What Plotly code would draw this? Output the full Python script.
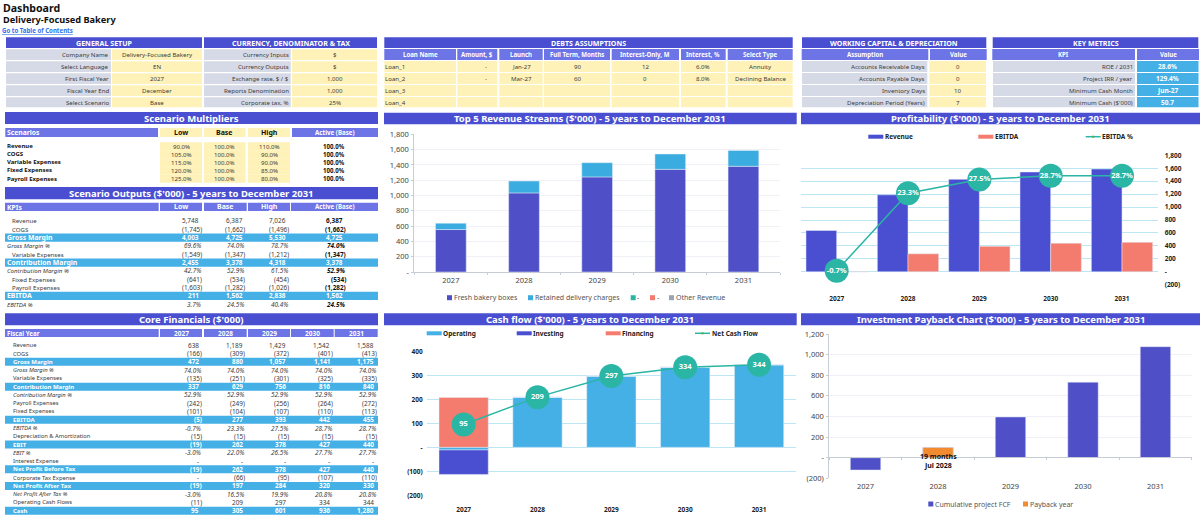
import plotly.graph_objects as go

W = 1200
H = 518

INDIGO = "#4A4FD1"
PERIWINKLE = "#6C74E6"
YELLOW = "#FFF2B8"
GREY = "#D6D9E6"
SKY = "#45B0E6"
SALMON = "#F47C6E"
TEAL = "#2BB5A5"
ORANGE = "#F28A30"
BAR_INDIGO = "#4F50C8"
BAR_SKY = "#3BACDF"
GRID = "#BDE6F5"
SOFT = "#EFF1F6"
INK = "#3A3A3A"
FONT = "Noto Sans"

YEARS = ["2027", "2028", "2029", "2030", "2031"]

# setup blocks
GENERAL_LABELS = ["Company Name", "Select Language", "First Fiscal Year", "Fiscal Year End", "Select Scenario"]
GENERAL_VALUES = ["Delivery-Focused Bakery", "EN", "2027", "December", "Base"]
CURRENCY_LABELS = ["Currency Inputs", "Currency Outputs", "Exchange rate, $ / $", "Reports Denomination", "Corporate tax, %"]
CURRENCY_VALUES = ["$", "$", "1.000", "1,000", "25%"]
LOAN_HEADERS = ["Loan Name", "Amount, $", "Launch", "Full Term, Months", "Interest-Only, M", "Interest, %", "Select Type"]
LOAN_ROWS = [
    ["Loan_1", "-", "Jan-27", "90", "12", "6.0%", "Annuity"],
    ["Loan_2", "-", "Mar-27", "60", "0", "8.0%", "Declining Balance"],
    ["Loan_3", "", "", "", "", "", ""],
    ["Loan_4", "", "", "", "", "", ""],
]
WC_LABELS = ["Accounts Receivable Days", "Accounts Payable Days", "Inventory Days", "Depreciation Period (Years)"]
WC_VALUES = ["0", "0", "10", "7"]
KPI_LABELS = ["ROE / 2031", "Project IRR / year", "Minimum Cash Month", "Minimum Cash ($'000)"]
KPI_VALUES = ["28.6%", "129.4%", "Jun-27", "50.7"]

# scenario blocks
SCENARIO_COLS = ["Low", "Base", "High", "Active (Base)"]
MULT_LABELS = ["Revenue", "COGS", "Variable Expenses", "Fixed Expenses", "Payroll Expenses"]
MULT_ROWS = [
    ["90.0%", "100.0%", "110.0%", "100.0%"],
    ["105.0%", "100.0%", "90.0%", "100.0%"],
    ["115.0%", "100.0%", "90.0%", "100.0%"],
    ["120.0%", "100.0%", "85.0%", "100.0%"],
    ["125.0%", "100.0%", "80.0%", "100.0%"],
]
OUT_LABELS = ["Revenue", "COGS", "Gross Margin", "Gross Margin %", "Variable Expenses", "Contribution Margin",
              "Contribution Margin %", "Fixed Expenses", "Payroll Expenses", "EBITDA", "EBITDA %"]
OUT_ROWS = [
    ["5,748", "6,387", "7,026", "6,387"],
    ["(1,745)", "(1,662)", "(1,496)", "(1,662)"],
    ["4,003", "4,725", "5,530", "4,725"],
    ["69.6%", "74.0%", "78.7%", "74.0%"],
    ["(1,549)", "(1,347)", "(1,212)", "(1,347)"],
    ["2,455", "3,378", "4,318", "3,378"],
    ["42.7%", "52.9%", "61.5%", "52.9%"],
    ["(641)", "(534)", "(454)", "(534)"],
    ["(1,603)", "(1,282)", "(1,026)", "(1,282)"],
    ["211", "1,562", "2,838", "1,562"],
    ["3.7%", "24.5%", "40.4%", "24.5%"],
]

# core financials
CORE_LABELS = ["Revenue", "COGS", "Gross Margin", "Gross Margin %", "Variable Expenses", "Contribution Margin",
               "Contribution Margin %", "Payroll Expenses", "Fixed Expenses", "EBITDA", "EBITDA %",
               "Depreciation & Amortization", "EBIT", "EBIT %", "Interest Expense", "Net Profit Before Tax",
               "Corporate Tax Expense", "Net Profit After Tax", "Net Profit After Tax %", "Operating Cash Flows", "Cash"]
CORE_ROWS = [
    ["638", "1,189", "1,429", "1,542", "1,588"],
    ["(166)", "(309)", "(372)", "(401)", "(413)"],
    ["472", "880", "1,057", "1,141", "1,175"],
    ["74.0%", "74.0%", "74.0%", "74.0%", "74.0%"],
    ["(135)", "(251)", "(301)", "(325)", "(335)"],
    ["337", "629", "756", "816", "840"],
    ["52.9%", "52.9%", "52.9%", "52.9%", "52.9%"],
    ["(242)", "(249)", "(256)", "(264)", "(272)"],
    ["(101)", "(104)", "(107)", "(110)", "(113)"],
    ["(5)", "277", "393", "442", "455"],
    ["-0.7%", "23.3%", "27.5%", "28.7%", "28.7%"],
    ["(15)", "(15)", "(15)", "(15)", "(15)"],
    ["(19)", "262", "378", "427", "440"],
    ["-3.0%", "22.0%", "26.5%", "27.7%", "27.7%"],
    ["-", "-", "-", "-", "-"],
    ["(19)", "262", "378", "427", "440"],
    ["-", "(66)", "(95)", "(107)", "(110)"],
    ["(19)", "197", "284", "320", "330"],
    ["-3.0%", "16.5%", "19.9%", "20.8%", "20.8%"],
    ["(11)", "209", "297", "334", "344"],
    ["95", "305", "601", "936", "1,280"],
]
BLUE_ROWS = {"Gross Margin", "Contribution Margin", "EBITDA", "EBIT", "Net Profit Before Tax", "Net Profit After Tax", "Cash"}

# chart series
FRESH_BOXES = [555, 1034, 1243, 1342, 1382]
DELIVERY_CHARGES = [83, 155, 186, 200, 206]
REVENUE = [638, 1189, 1429, 1542, 1588]
EBITDA = [-5, 277, 393, 442, 455]
EBITDA_PCT = [-0.7, 23.3, 27.5, 28.7, 28.7]
OPERATING = [-11, 209, 297, 334, 344]
INVESTING = [-102, 0, 0, 0, 0]
FINANCING = [208, 0, 0, 0, 0]
NET_CASH = [95, 209, 297, 334, 344]
CUM_FCF = [-120, 98, 395, 733, 1077]
PAYBACK = [None, 100, None, None, None]
PAYBACK_NOTE = "<b>19 months<br>Jul 2028</b>"

REV_TICKS = [0, 200, 400, 600, 800, 1000, 1200, 1400, 1600, 1800]
REV_TICKTEXT = ["-", "200", "400", "600", "800", "1,000", "1,200", "1,400", "1,600", "1,800"]
PROFIT_TICKS = [-200] + REV_TICKS
PROFIT_TICKTEXT = ["(200)"] + REV_TICKTEXT
CASH_TICKS = [-200, -100, 0, 100, 200, 300, 400]
CASH_TICKTEXT = ["(200)", "(100)", "-", "100", "200", "300", "400"]
PAY_TICKS = [-200, 0, 200, 400, 600, 800, 1000, 1200]
PAY_TICKTEXT = ["(200)", "-", "200", "400", "600", "800", "1,000", "1,200"]


fig = go.Figure()
shapes = []
notes = []


def px_x(x):
    return x / W


def px_y(y):
    return 1 - y / H


def rect(x0, y0, x1, y1, color):
    shapes.append(dict(type="rect", xref="paper", yref="paper", x0=px_x(x0), x1=px_x(x1),
                       y0=px_y(y0), y1=px_y(y1), fillcolor=color, line_width=0, layer="below"))


def text(x, y, s, size=6.1, color=INK, anchor="center", bold=False, italic=False):
    if s == "":
        return
    if bold:
        s = "<b>" + s + "</b>"
    if italic:
        s = "<i>" + s + "</i>"
    notes.append(dict(xref="paper", yref="paper", x=px_x(x), y=px_y(y), text=s, showarrow=False,
                      xanchor=anchor, yanchor="middle", borderpad=0, borderwidth=0,
                      font=dict(family=FONT, size=size, color=color)))


def band(x0, y0, x1, y1, s, color=INDIGO, size=7.1):
    rect(x0, y0, x1, y1, color)
    text((x0 + x1) / 2, (y0 + y1) / 2, s, size=size, color="white", bold=True)


def title_band(x0, y0, x1, y1, s):
    band(x0, y0, x1, y1, s, size=9.5)


def sub_band(x0, y0, x1, y1, s):
    band(x0, y0, x1, y1, s, color=PERIWINKLE, size=6.1)


def side_block(rows, x0, xm, xv, x1, labels, values, fill=YELLOW, value_color=INK, value_bold=False):
    for (y0, y1), lab, val in zip(rows, labels, values):
        rect(x0, y0, xm, y1, GREY)
        rect(xv, y0, x1, y1, fill)
        text(xm - 2, (y0 + y1) / 2, lab, anchor="right")
        text((xv + x1) / 2, (y0 + y1) / 2, val, size=6.5 if value_bold else 6.1, color=value_color, bold=value_bold)


def money_right(edge, s):
    # accounting format: positives leave room for the closing bracket
    if s.endswith(")"):
        return edge
    if s.endswith("%"):
        return edge - 1
    return edge - 2.7


# page heading
text(3, 7.5, "Dashboard", size=10.6, color="#111111", anchor="left", bold=True)
text(3, 19.5, "Delivery-Focused Bakery", size=9.2, color="#111111", anchor="left", bold=True)
text(2, 30.5, "<u>Go to Table of Contents</u>", size=6.1, color="#2F6FE8", anchor="left", bold=True)

# top forms
FORM5 = [(49.3, 60), (61.3, 72), (73.3, 84), (85.3, 96), (97.3, 107.3)]
FORM4 = [(61, 72), (73, 84), (85, 96), (97, 107.3)]
band(6, 37.3, 202, 48, "GENERAL SETUP")
side_block(FORM5, 6, 111, 112, 202, GENERAL_LABELS, GENERAL_VALUES)
band(204, 37.3, 377, 48, "CURRENCY, DENOMINATOR & TAX")
side_block(FORM5, 204, 290.7, 292, 377, CURRENCY_LABELS, CURRENCY_VALUES)

band(384.3, 37.3, 792.7, 48, "DEBTS ASSUMPTIONS")
LOAN_X = [(384.3, 456), (457.3, 497.3), (499.3, 542.7), (544, 610), (611.7, 679), (681, 725.7), (727.7, 792.7)]
for (x0, x1), head in zip(LOAN_X, LOAN_HEADERS):
    sub_band(x0, 49, x1, 60, head)
for (y0, y1), row in zip(FORM4, LOAN_ROWS):
    for i, ((x0, x1), cell) in enumerate(zip(LOAN_X, row)):
        rect(x0, y0, x1, y1, YELLOW)
        if i == 0:
            text(x0 + 1, (y0 + y1) / 2, cell, anchor="left")
        elif i == 1:
            text(x1 - 10, (y0 + y1) / 2, cell, anchor="right")
        else:
            text((x0 + x1) / 2, (y0 + y1) / 2, cell)

band(802, 37.3, 986.3, 48, "WORKING CAPITAL & DEPRECIATION")
sub_band(801.7, 49, 928.3, 60, "Assumption")
sub_band(930, 49, 986.7, 60, "Value")
band(992.7, 37.3, 1198.3, 48, "KEY METRICS")
sub_band(992.3, 49, 1135, 60, "KPI")
sub_band(1137, 49, 1199, 60, "Value")
side_block(FORM4, 802, 927.3, 929.3, 986, WC_LABELS, WC_VALUES)
side_block(FORM4, 993, 1135, 1137, 1198.5, KPI_LABELS, KPI_VALUES, fill=SKY, value_color="white", value_bold=True)

# scenario multipliers
SCEN_X = [(160, 202), (204, 245.5), (248, 290), (292, 378)]
title_band(5, 112, 378, 124, "Scenario Multipliers")
rect(5.3, 128, 158, 137, PERIWINKLE)
text(7, 132.5, "Scenarios", size=6.8, color="white", anchor="left", bold=True)
for (x0, x1), head in zip(SCEN_X[:3], SCENARIO_COLS[:3]):
    rect(x0, 128, x1, 137, YELLOW)
    text((x0 + x1) / 2, 132.5, head, size=7, color="#111111", bold=True)
band(292, 128, 378, 137, SCENARIO_COLS[3], color=PERIWINKLE, size=6.2)
mult_mid = [146.3, 154.4, 162.4, 170.4, 178.6]
for y, lab, row in zip(mult_mid, MULT_LABELS, MULT_ROWS):
    text(7, y, lab, size=6, color="#111111", anchor="left", bold=True)
    for (x0, x1), cell in zip(SCEN_X[:3], row[:3]):
        rect(x0, y - 4.1, x1, y + 4.1, YELLOW)
        text((x0 + x1) / 2, y, cell, size=6.1)
    text(334.3, y, row[3], size=6.1, color="#111111", bold=True)

# scenario outputs
title_band(5, 187, 378, 199.3, "Scenario Outputs ($'000) - 5 years to December 2031")
rect(5, 202.7, 158.7, 211, PERIWINKLE)
text(7, 207, "KPIs", size=6.8, color="white", anchor="left", bold=True)
OUT_HEAD_X = [(160, 202), (204, 246.7), (248, 290), (291, 378)]
for (x0, x1), head in zip(OUT_HEAD_X, SCENARIO_COLS):
    band(x0, 202.7, x1, 211, head, color=PERIWINKLE, size=6.2 if head.startswith("Active") else 7)
OUT_RIGHT = [202, 245.3, 289, 346]
for i, (lab, row) in enumerate(zip(OUT_LABELS, OUT_ROWS)):
    y = 221 + i * 8.33
    blue = lab in BLUE_ROWS
    pct = lab.endswith("%")
    if blue:
        rect(5, y - 4.1, 378, y + 4.1, SKY)
        text(6.7, y, lab, size=6.9, color="white", anchor="left", bold=True)
    else:
        text(6.7 if pct else 12, y, lab, anchor="left", italic=pct)
    for j, (edge, cell) in enumerate(zip(OUT_RIGHT, row)):
        active = j == 3
        text(money_right(edge, cell), y, cell, size=6.4, color="white" if blue else ("#111111" if active else INK),
             anchor="right", bold=blue or active, italic=pct)

# core financials
title_band(5, 313.3, 378, 325.3, "Core Financials ($'000)")
rect(5, 329, 158.7, 337, PERIWINKLE)
text(7, 333, "Fiscal Year", size=6.2, color="white", anchor="left", bold=True)
CORE_X = [(160, 202), (204, 246.7), (248, 290), (291, 333.7), (334.7, 377.7)]
for (x0, x1), head in zip(CORE_X, YEARS):
    band(x0, 329, x1, 337, head, color=PERIWINKLE, size=6.5)
CORE_RIGHT = [202, 245.3, 289, 332.7, 376.7]
for i, (lab, row) in enumerate(zip(CORE_LABELS, CORE_ROWS)):
    y = 345.3 + i * 8.27
    blue = lab in BLUE_ROWS
    pct = lab.endswith("%")
    if blue:
        rect(5, y - 4, 378, y + 4, SKY)
    text(13, y, lab, size=6 if blue else 5.8, color="white" if blue else INK, anchor="left", bold=blue, italic=pct)
    for edge, cell in zip(CORE_RIGHT, row):
        text(money_right(edge, cell), y, cell, size=6.4, color="white" if blue else INK, anchor="right", bold=blue, italic=pct)

# chart title bands
title_band(384, 112.7, 796.7, 124.3, "Top 5 Revenue Streams ($'000) - 5 years to December 2031")
title_band(801, 112.7, 1200, 124.3, "Profitability ($'000) - 5 years to December 2031")
title_band(384, 313.3, 796.7, 325.3, "Cash flow ($'000) - 5 years to December 2031")
title_band(801, 313.3, 1200, 325.3, "Investment Payback Chart ($'000) - 5 years to December 2031")


def dom_x(x0, x1):
    return [px_x(x0), px_x(x1)]


def dom_y(y_top, y_bottom):
    return [px_y(y_bottom), px_y(y_top)]


def legend_swatch(x, y, s, color, size=7):
    rect(x, y - 2.5, x + 5, y + 2.5, color)
    text(x + 6.5, y, s, size=size, color="#555555", anchor="left")


def legend_band(x, y, s, color):
    rect(x, y - 2, x + 15, y + 2, color)
    text(x + 16.5, y, s, size=6.5, color="#222222", anchor="left", bold=True)


def legend_line(x, y, s):
    shapes.append(dict(type="line", xref="paper", yref="paper", x0=px_x(x), x1=px_x(x + 15), y0=px_y(y), y1=px_y(y),
                       line=dict(color=TEAL, width=1.5), layer="below"))
    rect(x + 6.5, y - 1, x + 8.5, y + 1, "#4CAF50")
    text(x + 16.5, y, s, size=6.5, color="#222222", anchor="left", bold=True)


bar_font = dict(family=FONT, size=7.5, color="#444444")
bold_font = dict(family=FONT, size=6.5, color="#222222", weight="bold")

# top 5 revenue streams
fig.add_trace(go.Bar(x=YEARS, y=FRESH_BOXES, name="Fresh bakery boxes", marker_color=BAR_INDIGO, xaxis="x", yaxis="y"))
fig.add_trace(go.Bar(x=YEARS, y=DELIVERY_CHARGES, name="Retained delivery charges", marker_color=BAR_SKY, xaxis="x", yaxis="y"))
legend_swatch(447, 297.7, "Fresh bakery boxes", BAR_INDIGO)
legend_swatch(528, 297.7, "Retained delivery charges", BAR_SKY)
legend_swatch(630.7, 297.7, "-", TEAL)
legend_swatch(650, 297.7, "-", SALMON)
legend_swatch(669, 297.7, "Other Revenue", "#9AA5B1")

# profitability
fig.add_trace(go.Bar(x=YEARS, y=REVENUE, name="Revenue", marker_color=INDIGO, width=0.43, offset=-0.43, xaxis="x2", yaxis="y2"))
fig.add_trace(go.Bar(x=YEARS, y=EBITDA, name="EBITDA", marker_color=SALMON, width=0.43, offset=0, xaxis="x2", yaxis="y3"))
fig.add_trace(go.Scatter(x=YEARS, y=EBITDA_PCT, name="EBITDA %", mode="lines+markers+text", xaxis="x2", yaxis="y4",
                         line=dict(color=TEAL, width=1.5), marker=dict(color=TEAL, size=24),
                         texttemplate="%{y:.1f}%", textposition="middle center",
                         textfont=dict(family=FONT, size=7.5, color="white", weight="bold")))
legend_band(868.3, 136.7, "Revenue", INDIGO)
legend_band(978.3, 136.7, "EBITDA", SALMON)
legend_line(1085.7, 136.7, "EBITDA %")

# cash flow
fig.add_trace(go.Bar(x=YEARS, y=OPERATING, name="Operating", marker_color=SKY, width=0.667, xaxis="x3", yaxis="y5"))
fig.add_trace(go.Bar(x=YEARS, y=INVESTING, name="Investing", marker_color=INDIGO, width=0.667, xaxis="x3", yaxis="y5"))
fig.add_trace(go.Bar(x=YEARS, y=FINANCING, name="Financing", marker_color=SALMON, width=0.667, xaxis="x3", yaxis="y5"))
fig.add_trace(go.Scatter(x=YEARS, y=NET_CASH, name="Net Cash Flow", mode="lines+markers+text", xaxis="x3", yaxis="y5",
                         line=dict(color=TEAL, width=1.5), marker=dict(color=TEAL, size=24),
                         textposition="middle center", text=NET_CASH,
                         textfont=dict(family=FONT, size=7.5, color="white", weight="bold")))
legend_band(426.7, 333.3, "Operating", SKY)
legend_band(516.7, 333.3, "Investing", INDIGO)
legend_band(605.7, 333.3, "Financing", SALMON)
legend_line(695, 333.3, "Net Cash Flow")

# investment payback
fig.add_trace(go.Bar(x=YEARS, y=CUM_FCF, name="Cumulative project FCF", marker_color=BAR_INDIGO, xaxis="x4", yaxis="y6"))
fig.add_trace(go.Bar(x=YEARS, y=PAYBACK, name="Payback year", marker_color=ORANGE, xaxis="x4", yaxis="y7"))
legend_swatch(928.3, 504, "Cumulative project FCF", BAR_INDIGO)
legend_swatch(1023, 504, "Payback year", ORANGE)
notes.append(dict(xref="x4", yref="y6", x=1, y=0, text=PAYBACK_NOTE, showarrow=False, yanchor="middle", yshift=-3,
                  font=dict(family=FONT, size=7, color="#111111")))

CAT_RANGE = [-0.5, 4.5]
# the default template turns automargin on, which would shrink the paper area
soft_y = dict(automargin=False, showgrid=True, gridcolor=SOFT, gridwidth=1, zeroline=False, showline=True, linecolor="#C8CCD6",
              ticks="outside", ticklen=2, tickcolor="#C8CCD6", tickfont=bar_font, tickmode="array", ticklabelstandoff=1)
soft_x = dict(automargin=False, type="category", range=CAT_RANGE, showline=True, linecolor="#C8CCD6", ticks="outside", ticklen=2,
              tickcolor="#C8CCD6", tickson="boundaries", tickfont=bar_font, showgrid=False, zeroline=False)
blue_y = dict(automargin=False, showgrid=True, gridcolor=GRID, gridwidth=1, zeroline=False, showline=False, ticks="",
              tickfont=bold_font, tickmode="array")
blue_x = dict(automargin=False, type="category", range=CAT_RANGE, showline=False, ticks="", tickfont=bold_font, showgrid=False,
              zeroline=False, ticklabelstandoff=9)
hidden = dict(automargin=False, visible=False, showgrid=False, zeroline=False)

fig.update_layout(
    width=W, height=H, margin=dict(l=0, r=0, t=0, b=0), autosize=False,
    paper_bgcolor="white", plot_bgcolor="rgba(0,0,0,0)", showlegend=False, barmode="relative",
    font=dict(family=FONT, size=8, color=INK),
    shapes=shapes, annotations=notes,
    xaxis=dict(soft_x, domain=dom_x(414.3, 780), anchor="y", ticklabelstandoff=1),
    yaxis=dict(soft_y, domain=dom_y(134.3, 272), range=[0, 1800], tickvals=REV_TICKS, ticktext=REV_TICKTEXT, anchor="x"),
    bargap=0.58,
    xaxis2=dict(blue_x, domain=dom_x(801, 1157.7), anchor="y2"),
    yaxis2=dict(blue_y, domain=dom_y(155.3, 284.7), range=[-200, 1800], tickvals=PROFIT_TICKS, ticktext=PROFIT_TICKTEXT,
                side="right", anchor="x2", ticklabelstandoff=6),
    yaxis3=dict(hidden, domain=dom_y(155.3, 284.7), range=[-200, 1800], overlaying="y2", anchor="x2"),
    yaxis4=dict(hidden, domain=dom_y(155.3, 284.7), range=[-5, 35], overlaying="y2", anchor="x2"),
    xaxis3=dict(blue_x, domain=dom_x(426.7, 796), anchor="y5"),
    yaxis5=dict(blue_y, domain=dom_y(351.3, 495.3), range=[-200, 400], tickvals=CASH_TICKS, ticktext=CASH_TICKTEXT,
                anchor="x3", ticklabelstandoff=3),
    # line and ticks sit on the zero level, labels stay under the plot
    xaxis4=dict(soft_x, domain=dom_x(829.3, 1191.7), anchor="free", position=px_y(457.3), ticklabelstandoff=22),
    yaxis6=dict(soft_y, domain=dom_y(334, 478.3), range=[-200, 1200], tickvals=PAY_TICKS, ticktext=PAY_TICKTEXT, anchor="x4"),
    yaxis7=dict(hidden, domain=dom_y(334, 478.3), range=[-200, 1200], overlaying="y6", anchor="x4"),
)

fig.write_html("out.html", config={"displayModeBar": False}, post_script="document.body.style.margin='0';")
